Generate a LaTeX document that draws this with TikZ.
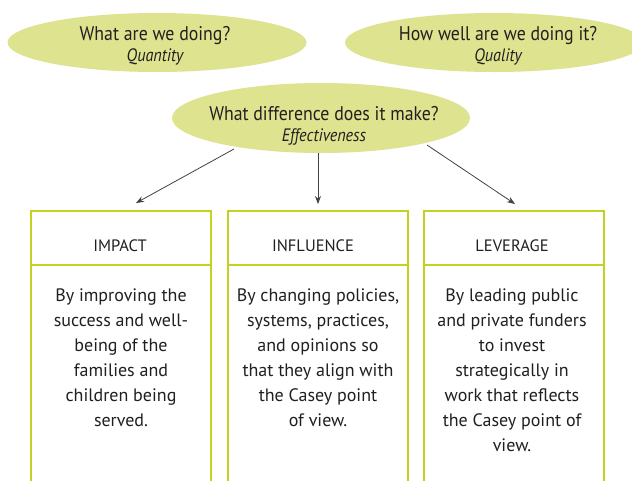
\documentclass[tikz,border=0pt]{standalone}
\usepackage{fontspec}
\setmainfont{PT Sans}
\newfontfamily\bodyfont{PT Sans}
\newfontfamily\bubfont[FakeStretch=0.9]{PT Sans}
\usetikzlibrary{arrows.meta,shapes.geometric}
\definecolor{ellfill}{HTML}{DDE38F}
\definecolor{boxline}{HTML}{C3D21E}
\definecolor{ink}{HTML}{231F20}
\newcommand{\subtxt}[1]{{\fontsize{18}{20.5}\selectfont\itshape #1}}
\begin{document}
\begin{tikzpicture}[x=1pt,y=-1pt,
  bubble/.style={ellipse,fill=ellfill,inner sep=0pt},
  bubtxt/.style={text=ink,align=center,inner sep=0pt,font=\bubfont\fontsize{19.8}{20.5}\selectfont},
  headtxt/.style={text=ink,font=\bodyfont\fontsize{16.5}{18}\selectfont,inner sep=0pt},
  bodytxt/.style={text=ink,align=center,font=\bodyfont\fontsize{18}{25}\selectfont,inner sep=0pt,anchor=north},
  frame/.style={draw=boxline,line width=2.2pt},
  conn/.style={draw=ink!85,line width=0.8pt,-{Stealth[length=8pt,width=6pt]}}]
\clip (0,0) rectangle (632,480);
\fill[white] (0,0) rectangle (632,480);
\node[bubble,minimum width=299pt,minimum height=59pt] (q1) at (157,42.5) {};
\node[bubble,minimum width=298pt,minimum height=59pt] (q2) at (494,42.5) {};
\node[bubble,minimum width=298pt,minimum height=70pt] (q3) at (321,118) {};
\node[bubtxt] (q1t) at (155,46) {What are we doing?\\\subtxt{Quantity}};
\node[bubtxt] (q2t) at (498,46) {How well are we doing it?\\\subtxt{Quality}};
\node[bubtxt] (q3t) at (324,126) {What difference does it make?\\\subtxt{Effectiveness}};
% boxes
\foreach \n/\xl/\xr in {b1/31/211,b2/228/408,b3/424/604}{
  \draw[frame] (\xl,490) -- (\xl,211) -- (\xr,211) -- (\xr,490);
  \draw[frame] (\xl,265) -- (\xr,265);
}
\coordinate (b1top) at (136,203);
\coordinate (b2top) at (318,204);
\coordinate (b3top) at (515,204);
\coordinate (s1) at (234,149);
\coordinate (s3) at (427,145);
\node[headtxt] (h1) at (120,246) {IMPACT};
\node[headtxt] (h2) at (313,246) {INFLUENCE};
\node[headtxt] (h3) at (512,246) {LEVERAGE};
\node[bodytxt] (t1) at (121,289) {By improving the\\success and well-\\being of the\\families and\\children being\\served.};
\node[bodytxt] (t2) at (318,289) {By changing policies,\\systems, practices,\\and opinions so\\that they align with\\the Casey point\\of view.};
\node[bodytxt] (t3) at (512,289) {By leading public\\and private funders\\to invest\\strategically in\\work that reflects\\the Casey point of\\view.};
\draw[conn] (s1) -- (b1top);
\draw[conn] (q3.south -| b2top) -- (b2top);
\draw[conn] (s3) -- (b3top);
\end{tikzpicture}
\end{document}
